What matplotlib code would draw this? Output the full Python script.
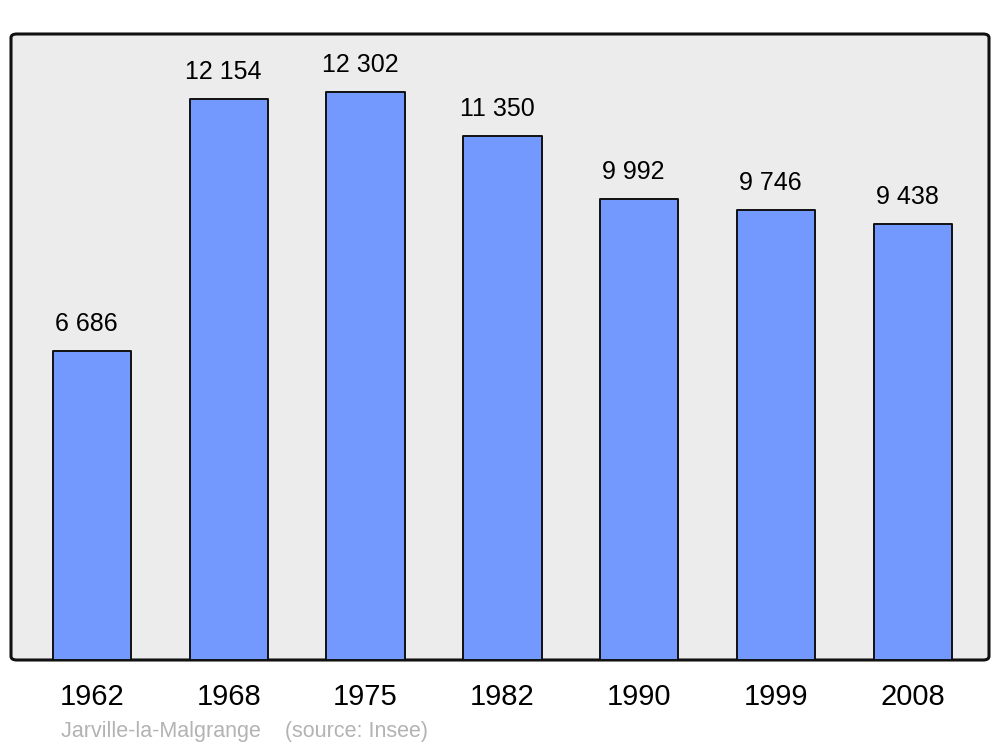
import matplotlib
matplotlib.use("Agg")
import matplotlib.pyplot as plt
from matplotlib.patches import FancyBboxPatch
import numpy as np

years = ["1962", "1968", "1975", "1982", "1990", "1999", "2008"]
population = [6686, 12154, 12302, 11350, 9992, 9746, 9438]
value_labels = ["6 686", "12 154", "12 302", "11 350", "9 992", "9 746", "9 438"]
caption = "Jarville-la-Malgrange    (source: Insee)"

plt.rcParams["font.family"] = ["Liberation Sans", "DejaVu Sans"]

fig = plt.figure(figsize=(10, 7.47), dpi=100)
ax = fig.add_axes([0.011, 1 - 660 / 747, 0.978, 626 / 747])
ax.set_facecolor("none")

# rounded frame behind the bars
frame = FancyBboxPatch((0, 0), 1, 1, boxstyle="round,pad=0,rounding_size=0.006",
                       transform=ax.transAxes, facecolor="#ececec",
                       edgecolor="#111111", linewidth=2.2, zorder=0, clip_on=False)
ax.add_patch(frame)

x = np.arange(len(years))
ax.bar(x, population, width=0.572, color="#7399ff", edgecolor="#111111",
       linewidth=1.4, zorder=2, joinstyle="round")

for xi, v, lab in zip(x, population, value_labels):
    ax.annotate(lab, (xi - 0.04, v), xytext=(0, 19.5), textcoords="offset points",
                ha="center", va="center", fontsize=18, color="black")

ax.set_xlim(-0.592, 6.557)
ax.set_ylim(0, 13558)
ax.set_xticks(x)
ax.set_xticklabels(years, fontsize=21)
ax.tick_params(axis="x", length=0, pad=16.5)
ax.set_yticks([])
for s in ax.spines.values():
    s.set_visible(False)

fig.text(0.061, 1 - 731 / 747, caption, fontsize=15.5, color="#b3b3b3",
         ha="left", va="center")

fig.savefig("out.png", dpi=100, facecolor="white")
